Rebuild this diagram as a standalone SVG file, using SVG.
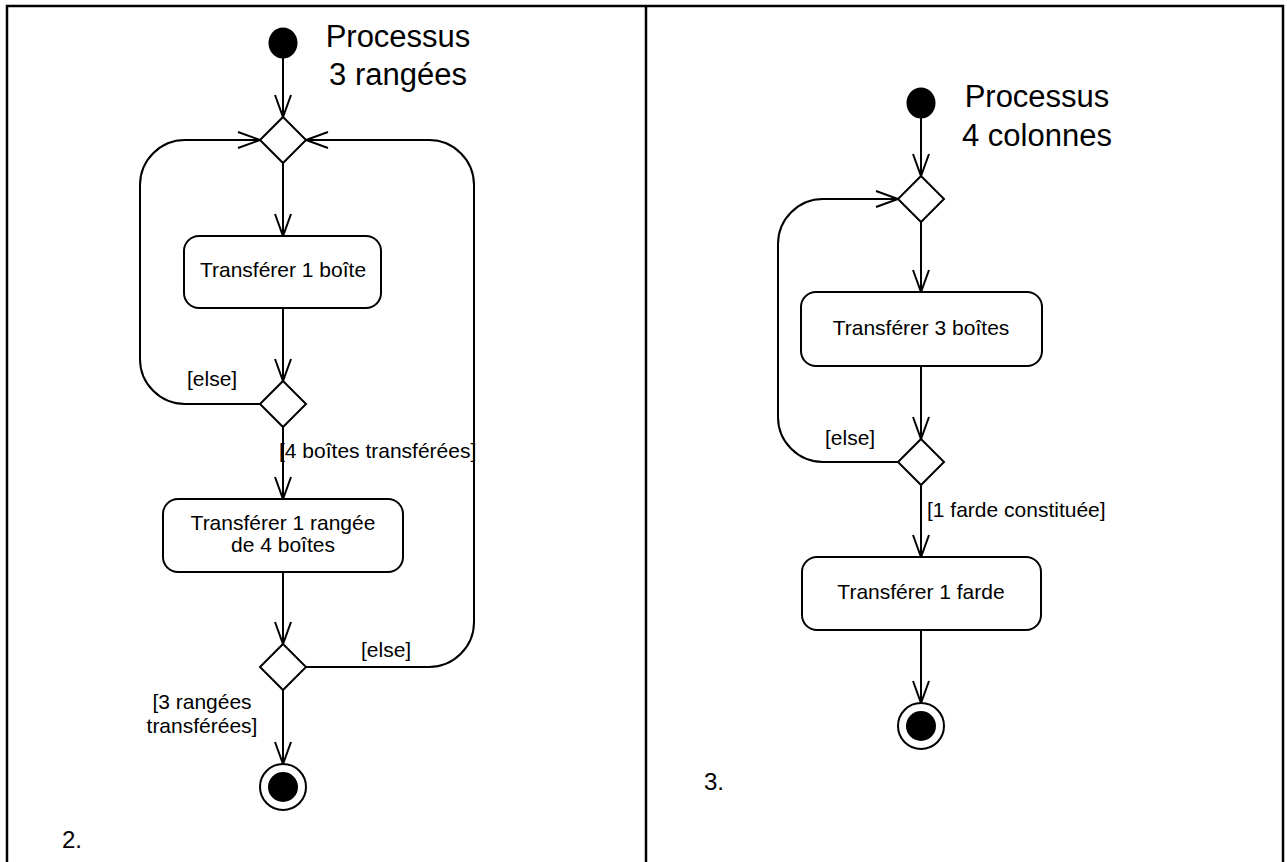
<svg xmlns="http://www.w3.org/2000/svg" width="1287" height="862" viewBox="0 0 1287 862">
<style>
  text { font-family: "Liberation Sans", Arial, sans-serif; fill: #000; }
  .lbl { font-size: 21px; }
  .ttl { font-size: 31px; text-anchor: middle; }
  .num { font-size: 24px; }
  .c { text-anchor: middle; }
  .box { fill: #fff; stroke: #000; stroke-width: 2; }
  .dia { fill: #fff; stroke: #000; stroke-width: 2; }
  .edge { fill: none; stroke: #000; stroke-width: 2; marker-end: url(#arr); }
  .frame { fill: none; stroke: #000; stroke-width: 2.5; }
</style>
<defs>
  <marker id="arr" markerUnits="userSpaceOnUse" markerWidth="30" markerHeight="24" viewBox="-24 -12 30 24" refX="0" refY="0" orient="auto" overflow="visible">
    <path d="M -22 -8 L 0 0 L -22 8" fill="none" stroke="#000" stroke-width="2"/>
  </marker>
</defs>
<rect width="1287" height="862" fill="#fff"/>
<g id="frame">
  <path class="frame" d="M 7 862 V 6 H 1283 V 862"/>
  <path class="frame" d="M 646 6 V 862"/>
</g>

<g id="connectors">
  <!-- left panel -->
  <path class="edge" d="M 283 58 V 117"/>
  <path class="edge" d="M 260 404 H 185 A 45 45 0 0 1 140 359 V 185 A 45 45 0 0 1 185 140 H 260"/>
  <path class="edge" d="M 306 667 H 429 A 45 45 0 0 0 474 622 V 185 A 45 45 0 0 0 429 140 H 306"/>
  <path class="edge" d="M 283 163 V 236"/>
  <path class="edge" d="M 283 308 V 381"/>
  <path class="edge" d="M 283 427 V 499"/>
  <path class="edge" d="M 283 572 V 644"/>
  <path class="edge" d="M 283 690 V 764"/>
  <!-- right panel -->
  <path class="edge" d="M 921 118 V 176"/>
  <path class="edge" d="M 921 222 V 292"/>
  <path class="edge" d="M 921 366 V 439"/>
  <path class="edge" d="M 898 462 H 823 A 45 45 0 0 1 778 417 V 244 A 45 45 0 0 1 823 199 H 898"/>
  <path class="edge" d="M 921 485 V 557"/>
  <path class="edge" d="M 921 630 V 703"/>
</g>

<g id="labels">
  <text class="lbl" x="187" y="386">[else]</text>
  <text class="lbl" x="279" y="458">[4 boîtes transférées]</text>
  <text class="lbl" x="361" y="657">[else]</text>
  <text class="lbl c" x="202" y="709">[3 rangées</text>
  <text class="lbl c" x="202" y="733">transférées]</text>
  <text class="lbl" x="825" y="445">[else]</text>
  <text class="lbl" x="927" y="517">[1 farde constituée]</text>
  <text class="num" x="62" y="848">2.</text>
  <text class="num" x="704" y="790">3.</text>
</g>

<!-- left panel nodes -->
<g id="start1">
  <ellipse cx="283" cy="43" rx="14.5" ry="15.5" fill="#000"/>
  <text class="ttl" x="398" y="47">Processus</text>
  <text class="ttl" x="398" y="85">3 rangées</text>
</g>
<g id="merge1"><path class="dia" d="M 283 117 L 306 140 L 283 163 L 260 140 Z"/></g>
<g id="act1">
  <rect class="box" x="184" y="236" width="197" height="72" rx="15"/>
  <text class="lbl c" x="283" y="277">Transférer 1 boîte</text>
</g>
<g id="dec1"><path class="dia" d="M 283 381 L 306 404 L 283 427 L 260 404 Z"/></g>
<g id="act2">
  <rect class="box" x="163" y="499" width="240" height="73" rx="15"/>
  <text class="lbl c" x="283" y="530">Transférer 1 rangée</text>
  <text class="lbl c" x="283" y="552">de 4 boîtes</text>
</g>
<g id="dec2"><path class="dia" d="M 283 644 L 306 667 L 283 690 L 260 667 Z"/></g>
<g id="final1">
  <circle cx="283" cy="787" r="23" fill="#fff" stroke="#000" stroke-width="2"/>
  <circle cx="283" cy="787" r="15" fill="#000"/>
</g>

<!-- right panel nodes -->
<g id="start2">
  <ellipse cx="921" cy="103" rx="14.5" ry="15.5" fill="#000"/>
  <text class="ttl" x="1037" y="107">Processus</text>
  <text class="ttl" x="1037" y="146">4 colonnes</text>
</g>
<g id="merge2"><path class="dia" d="M 921 176 L 944 199 L 921 222 L 898 199 Z"/></g>
<g id="act3">
  <rect class="box" x="801" y="292" width="241" height="74" rx="15"/>
  <text class="lbl c" x="921" y="335">Transférer 3 boîtes</text>
</g>
<g id="dec3"><path class="dia" d="M 921 439 L 944 462 L 921 485 L 898 462 Z"/></g>
<g id="act4">
  <rect class="box" x="802" y="557" width="239" height="73" rx="15"/>
  <text class="lbl c" x="921" y="599">Transférer 1 farde</text>
</g>
<g id="final2">
  <circle cx="921" cy="726" r="23" fill="#fff" stroke="#000" stroke-width="2"/>
  <circle cx="921" cy="726" r="15" fill="#000"/>
</g>
</svg>
